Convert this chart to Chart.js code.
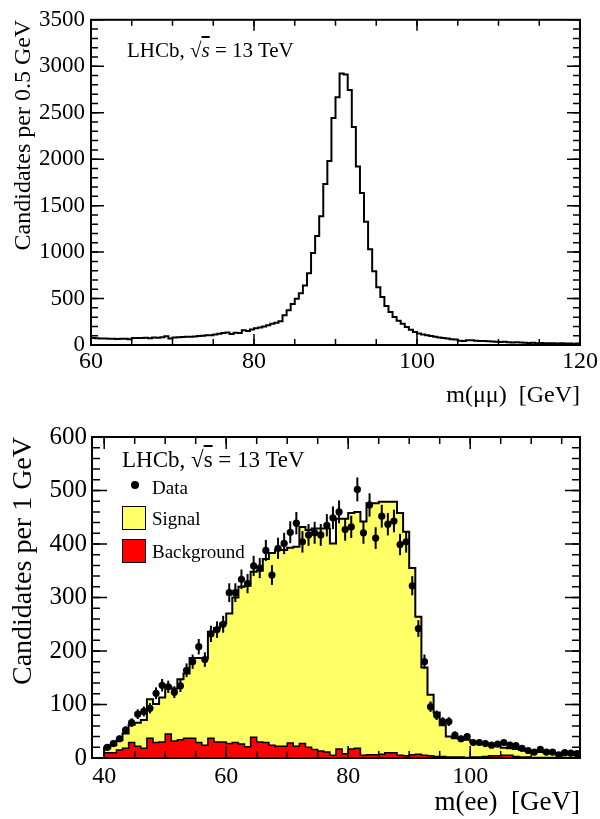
<!DOCTYPE html>
<html><head><meta charset="utf-8">
<script src="https://cdn.jsdelivr.net/npm/chart.js@4.4.1/dist/chart.umd.min.js"></script>
<style>
html,body{margin:0;padding:0;background:#fff;}
body{width:600px;height:819px;position:relative;overflow:hidden;font-family:'Liberation Serif','Times New Roman',serif;color:#000;}
.box{position:absolute;left:0;width:600px;}
.txt{position:absolute;white-space:nowrap;line-height:1;}
.ov{text-decoration:overline;}
</style></head><body>
<div class="box" style="top:0;height:410px"><canvas id="cTop"></canvas></div>
<div class="box" style="top:410px;height:409px"><canvas id="cBot"></canvas></div>
<div class="txt" style="left:127px;top:39.5px;font-size:21px">LHCb, √<span class="ov"><i>s</i></span> = 13 TeV</div>
<div class="txt" style="left:122px;top:447.5px;font-size:23px">LHCb, √<span class="ov">s</span> = 13 TeV</div>
<div style="position:absolute;left:130.5px;top:481px;width:8px;height:8px;border-radius:50%;background:#000"></div>
<div class="txt" style="left:152px;top:477.5px;font-size:19px">Data</div>
<div style="position:absolute;left:122px;top:506px;width:22px;height:22px;background:#ffff66;border:1.5px solid #000"></div>
<div class="txt" style="left:152px;top:509px;font-size:19px">Signal</div>
<div style="position:absolute;left:122px;top:539px;width:22px;height:22px;background:#ff0000;border:1.5px solid #000"></div>
<div class="txt" style="left:152px;top:542px;font-size:19px">Background</div>
<script>
// ---------- data ----------
// top: m(mumu) histogram, 0.5 GeV bins from 60 to 120
const muBinLow = 60;
const muBinWidth = 0.5;
const muCounts = [
  75,72,70,71,66,68,65,67,66,62,
  76,74,75,78,73,80,78,84,95,70,
  82,84,86,90,88,92,98,100,106,104,
  112,122,128,135,118,132,128,160,150,168,
  180,188,200,212,228,240,255,320,373,440,
  498,558,640,771,989,1174,1387,1732,1981,2443,
  2667,2923,2910,2745,2347,1920,1636,1327,1031,793,
  622,516,420,356,302,262,230,195,165,140,
  125,112,105,96,88,80,74,70,62,58,
  45,42,52,50,46,44,42,40,38,36,
  32,34,30,28,30,26,24,22,24,20,
  22,18,20,18,16,18,15,16,14,15
];
const muTickLabels = [60, 80, 100, 120];

// bottom: m(ee), 1 GeV bins from 40 to 118
const eeBinLow = 40;
const eeBinWidth = 1;
const eeData = [
  20,27,36,52,66,82,87,93,121,136,
  133,123,135,164,180,208,184,232,240,250,
  309,309,334,326,359,355,388,342,392,401,
  422,439,404,417,421,417,435,449,460,427,
  432,502,421,473,411,452,437,443,399,404,
  322,242,180,96,80,68,68,43,36,40,
  29,29,27,24,26,29,24,23,18,14,
  11,16,11,11,6,10,9,8
];
const eeTotal = [
  18,24,33,46,62,66,71,110,101,113,
  133,130,147,158,187,187,187,236,243,252,
  270,300,320,322,348,350,372,383,389,389,
  393,395,432,426,429,429,429,401,447,447,
  458,460,442,476,476,479,479,479,458,423,
  355,264,169,118,85,61,40,37,36,34,
  30,28,26,24,22,19,18,17,15,13,
  12,11,10,9,8,7,7,6
];
const eeBackground = [
  10,10,15,18,29,22,18,37,29,30,
  45,32,34,37,37,29,24,37,30,30,
  27,29,26,21,39,30,29,24,22,22,
  28,22,27,20,16,13,11,5,17,8,
  17,18,5,6,6,7,10,10,5,4,
  6,7,5,4,3,3,2,2,2,1,
  2,2,3,4,4,5,5,3,2,2,
  1,1,1,1,1,1,1,1
];
const eeTickLabels = [40, 60, 80, 100];

// ---------- helpers ----------
const FONT = "'Liberation Serif','Times New Roman',serif";
function histPoints(low, width, counts, fromZero) {
  const pts = [];
  if (fromZero) pts.push({x: low, y: 0});
  counts.forEach((c, i) => pts.push({x: low + i * width, y: c}));
  pts.push({x: low + counts.length * width, y: counts[counts.length - 1]});
  return pts;
}
function centerPoints(low, width, counts) {
  return counts.map((c, i) => ({x: low + (i + 0.5) * width, y: c}));
}
const plainLabel = v => String(v);

const frameTicks = {
  id: 'frameTicks',
  afterDatasetsDraw(chart, args, o) {
    const {ctx, chartArea: a} = chart;
    const x = chart.scales.x, y = chart.scales.y;
    ctx.save();
    ctx.strokeStyle = '#000';
    ctx.lineWidth = 1.5;
    function xt(step, len) {
      for (let k = Math.ceil(x.min / step - 1e-9); k * step <= x.max + 1e-9; k++) {
        const p = x.getPixelForValue(k * step);
        ctx.beginPath();
        ctx.moveTo(p, a.bottom); ctx.lineTo(p, a.bottom - len);
        ctx.moveTo(p, a.top); ctx.lineTo(p, a.top + len);
        ctx.stroke();
      }
    }
    function yt(step, len) {
      for (let k = Math.ceil(y.min / step - 1e-9); k * step <= y.max + 1e-9; k++) {
        const p = y.getPixelForValue(k * step);
        ctx.beginPath();
        ctx.moveTo(a.left, p); ctx.lineTo(a.left + len, p);
        ctx.moveTo(a.right, p); ctx.lineTo(a.right - len, p);
        ctx.stroke();
      }
    }
    xt(o.xMinor, o.xMinorLen); xt(o.xMajor, o.xMajorLen);
    yt(o.yMinor, o.yMinorLen); yt(o.yMajor, o.yMajorLen);
    ctx.lineWidth = 2;
    ctx.strokeRect(a.left, a.top, a.right - a.left, a.bottom - a.top);
    ctx.restore();
  }
};

const errBars = {
  id: 'errBars',
  afterDatasetsDraw(chart) {
    const ctx = chart.ctx, y = chart.scales.y;
    chart.data.datasets.forEach((ds, i) => {
      if (!ds.errorBars) return;
      const meta = chart.getDatasetMeta(i);
      ctx.save();
      ctx.strokeStyle = '#000';
      ctx.lineWidth = 2;
      meta.data.forEach((pt, j) => {
        const v = ds.data[j].y, e = Math.sqrt(v);
        ctx.beginPath();
        ctx.moveTo(pt.x, y.getPixelForValue(v - e));
        ctx.lineTo(pt.x, y.getPixelForValue(v + e));
        ctx.stroke();
      });
      ctx.restore();
    });
  }
};

function axisCommon() {
  return {
    grid: {display: false, drawTicks: false},
    border: {display: false}
  };
}

// ---------- top chart ----------
new Chart(document.getElementById('cTop'), {
  type: 'line',
  data: {datasets: [{
    data: histPoints(muBinLow, muBinWidth, muCounts, false),
    stepped: true, borderColor: '#000', borderWidth: 2, pointRadius: 0, fill: false
  }]},
  options: {
    responsive: true, maintainAspectRatio: false, animation: false,
    layout: {padding: {top: 17, right: 19, left: 0, bottom: 0}},
    plugins: {
      legend: {display: false}, tooltip: {enabled: false},
      frameTicks: {xMajor: 20, xMajorLen: 11, xMinor: 5, xMinorLen: 6, yMajor: 500, yMajorLen: 13, yMinor: 100, yMinorLen: 7}
    },
    scales: {
      x: Object.assign(axisCommon(), {
        type: 'linear', min: 60, max: 120,
        afterFit(s) { s.height = 65; },
        afterBuildTicks(s) { s.ticks = muTickLabels.map(v => ({value: v})); },
        ticks: {autoSkip: false, maxRotation: 0, color: '#000', font: {family: FONT, size: 24}, padding: 2, callback: plainLabel},
        title: {display: true, text: 'm(μμ)  [GeV]', align: 'end', color: '#000', font: {family: FONT, size: 24}, padding: {top: 0, bottom: 0}}
      }),
      y: Object.assign(axisCommon(), {
        type: 'linear', min: 0, max: 3500,
        afterFit(s) { s.width = 91; },
        ticks: {stepSize: 500, autoSkip: false, color: '#000', font: {family: FONT, size: 23}, padding: 6, callback: plainLabel},
        title: {display: true, text: 'Candidates per 0.5 GeV', align: 'end', color: '#000', font: {family: FONT, size: 24}, padding: {top: 9, bottom: 0}}
      })
    }
  },
  plugins: [frameTicks]
});

// ---------- bottom chart ----------
new Chart(document.getElementById('cBot'), {
  type: 'line',
  data: {datasets: [
    {
      label: 'Data', data: centerPoints(eeBinLow, eeBinWidth, eeData), showLine: false,
      pointRadius: 3.6, pointBackgroundColor: '#000', pointBorderWidth: 0, borderColor: '#000', errorBars: true
    },
    {
      label: 'Background', data: histPoints(eeBinLow, eeBinWidth, eeBackground, true),
      stepped: true, borderColor: '#000', borderWidth: 1.5, pointRadius: 0,
      fill: 'origin', backgroundColor: '#ff0000'
    },
    {
      label: 'Signal', data: histPoints(eeBinLow, eeBinWidth, eeTotal, true),
      stepped: true, borderColor: '#000', borderWidth: 2, pointRadius: 0,
      fill: 'origin', backgroundColor: '#ffff66'
    }
  ]},
  options: {
    responsive: true, maintainAspectRatio: false, animation: false,
    layout: {padding: {top: 27, right: 20, left: 0, bottom: 0}},
    plugins: {
      legend: {display: false}, tooltip: {enabled: false},
      frameTicks: {xMajor: 20, xMajorLen: 12, xMinor: 5, xMinorLen: 7, yMajor: 100, yMajorLen: 15, yMinor: 20, yMinorLen: 8}
    },
    scales: {
      x: Object.assign(axisCommon(), {
        type: 'linear', min: 38, max: 118,
        afterFit(s) { s.height = 61; },
        afterBuildTicks(s) { s.ticks = eeTickLabels.map(v => ({value: v})); },
        ticks: {autoSkip: false, maxRotation: 0, color: '#000', font: {family: FONT, size: 24}, padding: 4, callback: plainLabel},
        title: {display: true, text: 'm(ee)  [GeV]', align: 'end', color: '#000', font: {family: FONT, size: 27}, padding: {top: 0, bottom: 0}}
      }),
      y: Object.assign(axisCommon(), {
        type: 'linear', min: 0, max: 600,
        afterFit(s) { s.width = 92; },
        ticks: {stepSize: 100, autoSkip: false, color: '#000', font: {family: FONT, size: 25}, padding: 5, callback: plainLabel},
        title: {display: true, text: 'Candidates per 1 GeV', align: 'end', color: '#000', font: {family: FONT, size: 28}, padding: {top: 7, bottom: 0}}
      })
    }
  },
  plugins: [frameTicks, errBars]
});
</script>
</body></html>
